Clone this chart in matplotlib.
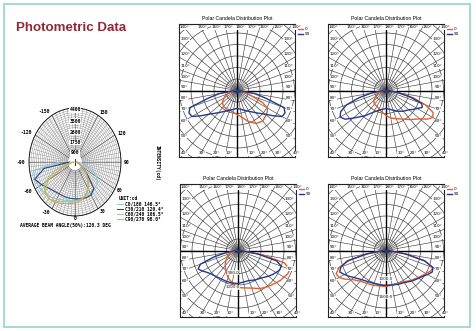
import numpy as np
import matplotlib
matplotlib.use("Agg")
import matplotlib.pyplot as plt
from matplotlib.patches import Rectangle, Circle
from matplotlib.lines import Line2D

# ---------------- data ----------------
# right-hand plots: angle from nadir (deg, negative = left side), intensity (relative units)
angles = [-90, -80, -75, -70, -65, -60, -55, -50, -40, -30, -20, -10, 0,
          10, 20, 30, 40, 50, 55, 60, 65, 70, 75, 80, 90]

p1_c0 = [2, 5, 7, 10, 13, 15, 17, 19, 21, 21, 21, 22, 24,
         27, 33, 38, 40, 38, 37, 35, 28, 15, 10, 6, 2]
p1_c90 = [3, 18, 30, 50, 53, 52, 44, 37, 29, 24, 21, 19, 18,
          19, 21, 24, 29, 37, 44, 52, 53, 50, 30, 18, 3]

p2_c0 = [2, 4, 6, 8, 10, 12, 14, 16, 18, 18, 20, 22, 25,
         28, 30, 33, 38, 44, 50, 54, 52, 42, 28, 12, 3]
p2_c90 = [3, 15, 28, 42, 50, 53, 50, 43, 33, 25, 21, 19, 18,
          19, 21, 24, 27, 30, 33, 36, 40, 38, 25, 12, 3]

p3_c0 = [2, 4, 6, 8, 10, 12, 14, 16, 20, 24, 29, 33, 37,
         38, 40, 44, 47, 50, 52, 53, 55, 55, 48, 25, 3]
p3_c90 = [3, 12, 25, 40, 44, 41, 38, 36, 34, 33, 33, 33, 33,
          32, 32, 34, 36, 40, 42, 44, 46, 46, 40, 20, 3]

p4_c0 = [3, 18, 38, 50, 55, 54, 50, 45, 40, 38, 37, 36, 36,
         35, 35, 36, 39, 42, 44, 46, 49, 50, 40, 20, 3]
p4_c90 = [3, 20, 40, 48, 51, 48, 45, 42, 38, 36, 35, 35, 35,
          35, 36, 37, 40, 43, 45, 48, 51, 50, 40, 20, 3]

plot_titles = ["Polar Candela Distribution Plot"] * 4
legend_labels = ["0", "90"]
# radial value labels shown in the lower plots (text, radius in plot units)
p3_rlabels = [("500.0", 22), ("1000.0", 37)]
p4_rlabels = [("1000.0", 28), ("1500.0", 46)]

# left photometric polar (C-planes), angle from nadir, cd
lp_angles = [-90, -80, -70, -60, -50, -40, -30, -20, -10, 0,
             10, 20, 30, 40, 50, 60, 70, 80, 90]
lp_c0 = [1500, 4000, 4100, 4000, 3900, 3700, 3500, 3300, 3200, 3100,
         3000, 2950, 2900, 2850, 2800, 2400, 1600, 800, 300]
lp_c30 = [500, 3000, 4100, 3700, 3300, 3100, 3000, 3000, 3000, 3000,
          3050, 3100, 3100, 2800, 1500, 800, 400, 200, 100]
lp_c60 = [150, 600, 2000, 3300, 3800, 3900, 3700, 3450, 3300, 3200,
          3100, 2900, 2600, 2000, 1400, 900, 500, 250, 100]
lp_c90 = [100, 300, 1200, 3000, 3700, 3900, 3800, 3600, 3450, 3350,
          3200, 2900, 2500, 1900, 1300, 800, 450, 200, 100]
lp_labels = ["C0/180 146.5\u00b0", "C30/210 120.4\u00b0",
             "C60/240 106.5\u00b0", "C90/270 98.0\u00b0"]
ring_values = [900, 1750, 2600, 3500, 4400]
theta_labels = [-150, -120, -90, -60, -30, 0, 30, 60, 90, 120, 150]

# ---------------- figure ----------------
W, H = 477, 331
fig = plt.figure(figsize=(W / 100, H / 100), dpi=100)
fig.patch.set_facecolor("white")

def fx(px):
    return px / W

def fy(py):
    return 1 - py / H

# outer frame
fig.add_artist(Rectangle((fx(4), fy(327)), fx(466), 323 / H, transform=fig.transFigure,
                         fill=False, edgecolor="#9fd6d3", lw=1.3))

fig.text(fx(16), fy(28), "Photometric Data", color="#8f2a35", fontsize=9.6,
         fontweight="bold", family="Liberation Sans", va="center", ha="left")

# ---------------- right-hand polar plots ----------------
ORANGE = "#e2602e"
BLUE = "#22398f"
RING = 11.5

boxes = [(179, 24), (328, 24), (180, 184), (328, 184)]
BW, BH = 116, 133
data_sets = [(p1_c0, p1_c90), (p2_c0, p2_c90), (p3_c0, p3_c90), (p4_c0, p4_c90)]
rlabel_sets = [[], [], p3_rlabels, p4_rlabels]
rlabel_dx = [0, 0, -5, 0]

for (bx, by), (c0, c90), ttl, rlabs, rdx in zip(boxes, data_sets, plot_titles,
                                                rlabel_sets, rlabel_dx):
    ax = fig.add_axes([fx(bx), fy(by + BH), BW / W, BH / H])
    hx, hy = BW / 2, BH / 2
    ax.set_xlim(-hx, hx)
    ax.set_ylim(-hy, hy)
    ax.set_xticks([])
    ax.set_yticks([])
    for s in ax.spines.values():
        s.set_linewidth(0.8)
        s.set_color("#222222")
    # rings
    for k in range(1, 9):
        ax.add_patch(Circle((0, 0), k * RING, fill=False, lw=0.5, ec="#444444"))
    ax.add_patch(Circle((0, 0), 6, fill=False, lw=0.35, ec="#777777"))
    # radial lines
    for a in range(0, 360, 10):
        t = np.deg2rad(a)
        ax.plot([0, 120 * np.sin(t)], [0, -120 * np.cos(t)], color="#444444", lw=0.45)
    ax.axhline(0, color="black", lw=1.0)
    ax.axvline(0, color="black", lw=1.0)
    # edge labels
    for a in range(10, 181, 10):
        for side in (-1, 1):
            if a == 180 and side == -1:
                continue
            t = np.deg2rad(a)
            dx, dy = side * np.sin(t), -np.cos(t)
            sx = hx / abs(dx) if abs(dx) > 1e-9 else 1e9
            sy = hy / abs(dy) if abs(dy) > 1e-9 else 1e9
            s = min(sx, sy)
            x, y = dx * s, dy * s
            lab = f"{a}\u00b0"
            if sy <= sx:
                if dy > 0:
                    ax.text(x + 3.5, hy - 1.5, lab, fontsize=3, ha="center", va="top",
                            bbox=dict(fc="white", ec="none", pad=0.1))
                else:
                    ax.text(x + 3.5, -hy + 1.5, lab, fontsize=3, ha="center", va="bottom",
                            bbox=dict(fc="white", ec="none", pad=0.1))
            else:
                if dx < 0:
                    ax.text(-hx + 1.5, y + 1.0, lab, fontsize=3, ha="left", va="bottom",
                            bbox=dict(fc="white", ec="none", pad=0.1))
                else:
                    ax.text(hx - 1.5, y + 1.0, lab, fontsize=3, ha="right", va="bottom",
                            bbox=dict(fc="white", ec="none", pad=0.1))
    # curves
    th = np.deg2rad(angles)
    c0a = np.asarray(c0, float)
    c90a = np.asarray(c90, float)
    ax.plot(c0a * np.sin(th), -c0a * np.cos(th), color=ORANGE, lw=1.0, label=legend_labels[0])
    ax.plot(c90a * np.sin(th), -c90a * np.cos(th), color=BLUE, lw=1.0, label=legend_labels[1])
    ax.plot([0], [0], "o", color=BLUE, ms=2)
    for txt, rr in rlabs:
        ax.text(rdx, -rr, txt, fontsize=3, ha="center", va="center", color="#222222",
                bbox=dict(fc="white", ec="none", pad=0.1, alpha=0.8))
    ax.legend(loc="upper left", bbox_to_anchor=(1.0, 1.0), frameon=False, fontsize=3,
              handlelength=1.2, handletextpad=0.4, labelspacing=0.2, borderpad=0.3)
    ax.set_title(ttl, fontsize=3.7, pad=3, family="Liberation Sans")

# ---------------- left photometric polar ----------------
lcx, lcy = 75, 162
rx, ry = 46, 54
pax = fig.add_axes([fx(lcx - rx), fy(lcy + ry), 2 * rx / W, 2 * ry / H], projection="polar")
pax.set_aspect("auto")
pax.set_theta_zero_location("S")
pax.set_theta_direction(1)
RMAX = 4400
pax.set_ylim(0, RMAX)
pax.grid(False)
pax.set_xticks([])
pax.set_yticks([])
pax.spines["polar"].set_linewidth(0.6)
tt = np.linspace(0, 2 * np.pi, 361)
for r in np.arange(700, RMAX, 175):
    pax.plot(tt, np.full_like(tt, r), color="#8a8a8a", lw=0.3)
for a in range(0, 360, 5):
    pax.plot([np.deg2rad(a)] * 2, [700, RMAX], color="#8a8a8a", lw=0.3)
for a in range(0, 360, 30):
    pax.plot([np.deg2rad(a)] * 2, [700, RMAX], color="#555555", lw=0.4)
pax.plot([0, 0], [0, 250], color="black", lw=0.6)
pax.plot([np.pi, np.pi], [0, 250], color="black", lw=0.6)

lt = np.deg2rad(lp_angles)
lcols = ["#86c8dc", "#2c3f78", "#9dcb84", "#dca25e"]
for vals, col in zip([lp_c0, lp_c30, lp_c60, lp_c90], lcols):
    pax.plot(lt, vals, color=col, lw=0.8)

for v in ring_values:
    pax.text(np.pi, v - 160, str(v), fontsize=3.4, ha="center", va="center",
             family="DejaVu Sans Mono", fontweight="bold",
             bbox=dict(fc="white", ec="none", pad=0.2))
for a in theta_labels:
    if a < 0:
        ha, rr = "right", 1.08
    elif a > 0:
        ha, rr = "left", 1.06
    else:
        ha, rr = "center", 1.05
    pax.text(np.deg2rad(a), RMAX * rr, str(a), fontsize=3.4, ha=ha, va="center",
             family="DejaVu Sans Mono", fontweight="bold", clip_on=False)

mono = dict(family="DejaVu Sans Mono", fontweight="bold", fontsize=3.3)
fig.text(fx(157), fy(163), "INTENSITY(cd)", rotation=270, ha="center", va="center", **mono)
fig.text(fx(119), fy(199), "UNIT:cd", ha="left", va="center", **mono)
for i, (lab, col) in enumerate(zip(lp_labels, lcols)):
    yy = 203.5 + 5.3 * i
    fig.add_artist(Line2D([fx(117), fx(123)], [fy(yy), fy(yy)], color=col, lw=0.7,
                          transform=fig.transFigure))
    fig.text(fx(125), fy(yy), lab, ha="left", va="center", **mono)
fig.text(fx(20), fy(225.5), "AVERAGE BEAM ANGLE(50%):120.3 DEG", ha="left", va="center", **mono)

fig.savefig("out.png", dpi=100)
